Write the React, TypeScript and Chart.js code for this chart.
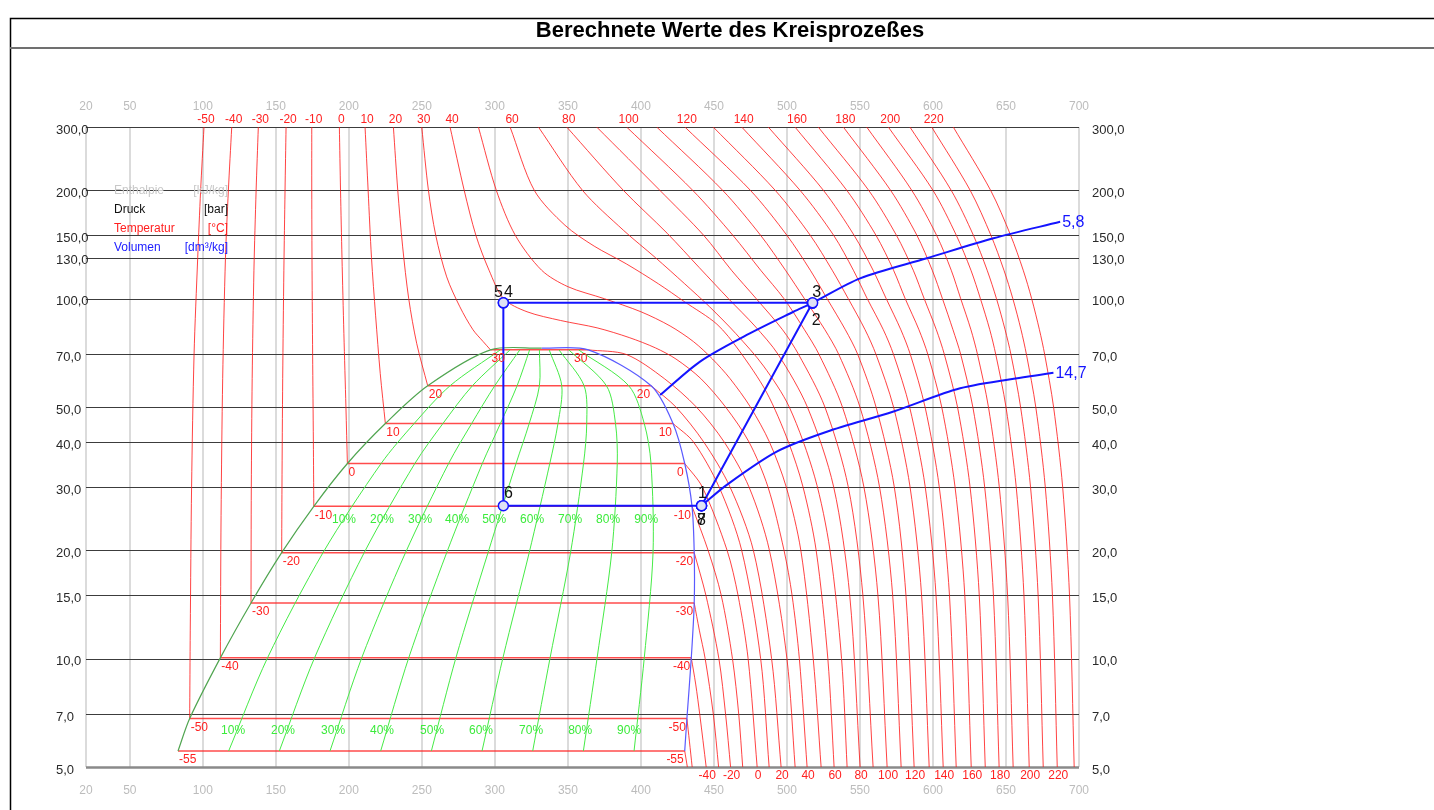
import React, { useEffect, useRef } from 'react';
import { Chart, registerables } from 'chart.js';
Chart.register(...registerables);

const W = 1434;
const H = 810;
const FONT = '"Liberation Sans", Arial, sans-serif';
const titleText = 'Berechnete Werte des Kreisprozeßes';

// axes
const enthalpyTicks = [20, 50, 100, 150, 200, 250, 300, 350, 400, 450, 500, 550, 600, 650, 700];
const pressureTicks = [300, 200, 150, 130, 100, 70, 50, 40, 30, 20, 15, 10, 7, 5];
const pressureLabels = ['300,0', '200,0', '150,0', '130,0', '100,0', '70,0', '50,0', '40,0', '30,0', '20,0', '15,0', '10,0', '7,0', '5,0'];

// saturation (two-phase) data
const satTemps = [-55, -50, -40, -30, -20, -10, 0, 10, 20, 30];
const satPressure = [5.54, 6.82, 10.05, 14.28, 19.7, 26.5, 34.85, 45.0, 57.3, 72.1];
const satLiquidH = [83, 91, 112, 133, 154, 176, 199, 225, 254, 297];
const satVaporH = [430, 431.5, 434.5, 436.5, 436.5, 435, 430, 422, 407, 364];
const criticalPoint = [332, 72.9];

// isotherms, liquid side (top of chart down to saturated liquid), aligned with satTemps
const liquidIsotherms = [
  [],
  [[100.8, 300], [98.5, 200], [96.5, 130], [94, 70], [92.3, 30], [91.4, 12], [91, 6.82]],
  [[119.8, 300], [117.5, 200], [115.5, 130], [113.6, 60], [112.5, 25], [112, 10.05]],
  [[138, 300], [136.5, 200], [135, 120], [133.8, 60], [133.2, 30], [133, 14.28]],
  [[157, 300], [156.3, 200], [155.5, 120], [154.7, 60], [154.2, 30], [154, 19.7]],
  [[174.6, 300], [174.6, 200], [174.8, 120], [175.2, 70], [175.7, 40], [176, 26.5]],
  [[193.5, 300], [194.3, 200], [195.3, 130], [196.6, 80], [198, 50], [199, 34.85]],
  [[211.1, 300], [213.2, 200], [215.5, 130], [218.3, 90], [221.5, 62], [225, 45]],
  [[230.5, 300], [233.5, 200], [236.8, 140], [241, 100], [246.5, 75], [254, 57.3]],
  [[249.9, 300], [254.5, 200], [259.5, 150], [267, 115], [276, 95], [285, 82], [292, 76], [297, 72.1]],
];

// isotherms, vapour side (saturated vapour down to 5 bar), aligned with satTemps
const vaporIsotherms = [
  [[430, 5.54], [431.8, 5]],
  [[431.5, 6.82], [433.2, 5.9], [435.1, 5]],
  [[434.5, 10.05], [437.5, 8.5], [440.3, 7], [444.7, 5]],
  [[436.5, 14.28], [440, 12], [444, 10], [449.6, 7], [453.2, 5]],
  [[436.5, 19.7], [444.5, 15], [453.4, 10], [458, 7], [461.4, 5]],
  [[435, 26.5], [446, 20], [455, 15], [462.7, 10], [467, 7], [469.7, 5]],
  [[430, 34.85], [442, 30], [459, 20], [466.5, 15], [473.4, 10], [479.6, 5]],
  [[422, 45], [436, 40], [453.5, 30], [469, 20], [482, 10], [487.8, 5]],
  [[407, 57.3], [424, 50], [443, 40], [461, 30], [477, 20], [489.5, 10], [496, 5]],
  [[364, 72.1], [390, 70], [416, 60], [438, 50], [457, 40], [474, 30], [488, 20], [500, 10], [505.6, 5]],
];

// supercritical isotherms (300 bar down to 5 bar)
const superTemps = [40, 50, 60, 70, 80, 90, 100, 110, 120, 130, 140, 150, 160, 170, 180, 190, 200, 210, 220, 230];
const superIsotherms = [
  [[269.3, 300], [279, 200], [287, 150], [296, 120], [306, 100], [322, 92], [345, 87], [370, 83], [392, 78], [410, 73], [424, 68], [441, 60], [458, 50], [474, 40], [487, 30], [498, 20], [503.5, 15], [508.5, 10], [513.8, 5]],
  [[288.7, 300], [301, 200], [314, 150], [332, 120], [350, 108], [375, 100], [400, 92], [420, 84], [436, 76], [449, 68], [461, 60], [475, 50], [488, 40], [499.5, 30], [509.5, 20], [518, 10], [523.4, 5]],
  [[310.4, 300], [327, 200], [348, 160], [368, 140], [390, 125], [412, 110], [430, 98], [452, 85], [467, 72], [486, 55], [501, 40], [511, 30], [520, 20], [528, 10], [532.3, 5]],
  [[329.8, 300], [360, 200], [388, 155], [410, 130], [430, 110], [447, 95], [465, 80], [484, 65], [501.6, 50], [519, 32], [529.5, 20], [537.4, 10], [541.2, 5]],
  [[349.2, 300], [388, 200], [418, 152], [440, 122], [460, 100], [478, 84], [494, 70], [514, 50], [532, 30], [543, 15], [550.1, 5]],
  [[369.7, 300], [413, 200], [443, 150], [462, 120], [479, 100], [497, 82], [508, 70], [526, 50], [542, 30], [552, 15], [559, 5]],
  [[390.2, 300], [435.5, 200], [463, 150], [482, 120], [498, 100], [512, 82], [522, 70], [538, 50], [552.7, 30], [562.3, 15], [568.6, 5]],
  [[410.8, 300], [456, 200], [482, 150], [499, 120], [512, 100], [526, 82], [535.5, 70], [550, 50], [563.4, 30], [572.4, 15], [578.2, 5]],
  [[430.1, 300], [475, 200], [500, 150], [516, 120], [527.5, 100], [540, 82], [548.5, 70], [561, 50], [573.5, 30], [581.5, 15], [587.1, 5]],
  [[449.5, 300], [492, 200], [516, 150], [531, 120], [542, 100], [553.5, 82], [561, 70], [573, 50], [584.3, 30], [592.2, 15], [597.4, 5]],
  [[469, 300], [509, 200], [532, 150], [545.5, 120], [555, 100], [566, 82], [573, 70], [584, 50], [594.7, 30], [602.1, 15], [607, 5]],
  [[487.2, 300], [525, 200], [546, 150], [559, 120], [568, 100], [578, 82], [584.5, 70], [594.6, 50], [604.3, 30], [611.3, 15], [615.9, 5]],
  [[505.5, 300], [541, 200], [561, 150], [573, 120], [581, 100], [590.4, 82], [596.5, 70], [606, 50], [615.1, 30], [621.8, 15], [626.2, 5]],
  [[521.4, 300], [556, 200], [575, 150], [586.5, 120], [594, 100], [602.3, 82], [607.8, 70], [616.8, 50], [625.4, 30], [631.7, 15], [635.8, 5]],
  [[538.6, 300], [571, 200], [589, 150], [599.5, 120], [606.5, 100], [613.7, 82], [619, 70], [627.3, 50], [635.4, 30], [641.4, 15], [645.3, 5]],
  [[554.6, 300], [585.5, 200], [602.5, 150], [612.5, 120], [619, 100], [626, 82], [630.5, 70], [638, 50], [645.4, 30], [651.1, 15], [654.9, 5]],
  [[569.4, 300], [600, 200], [616, 150], [626, 120], [632.5, 100], [638.9, 82], [643, 70], [650, 50], [657, 30], [662.3, 15], [665.9, 5]],
  [[584.2, 300], [612.5, 200], [627.7, 150], [637.1, 120], [643.5, 100], [649.4, 82], [653.4, 70], [660, 50], [666.8, 30], [672, 15], [675.5, 5]],
  [[599.1, 300], [625.5, 200], [639.7, 150], [648.6, 120], [654.7, 100], [660.3, 82], [664, 70], [670.4, 50], [676.9, 30], [681.8, 15], [685.1, 5]],
  [[613.9, 300], [639.5, 200], [653.2, 150], [661.8, 120], [667.6, 100], [672.9, 82], [676.5, 70], [682.6, 50], [688.8, 30], [693.5, 15], [696.7, 5]],
];

const topLabelTemps = [-50, -40, -30, -20, -10, 0, 10, 20, 30, 40, 60, 80, 100, 120, 140, 160, 180, 200, 220];
const bottomLabelTemps = [-40, -20, 0, 20, 40, 60, 80, 100, 120, 140, 160, 180, 200, 220];

// vapour quality lines (enthalpy at the pressures below)
const qualityPressures = [5.54, 10.05, 19.7, 34.85, 45.0, 57.3, 72.1];
const qualityH = [
  [117.7, 144.3, 182.3, 222.1, 244.7, 269.3, 303.7],
  [152.4, 176.5, 210.5, 245.2, 264.4, 284.6, 310.4],
  [187.1, 208.8, 238.8, 268.3, 284.1, 299.9, 317.1],
  [221.8, 241, 267, 291.4, 303.8, 315.2, 323.8],
  [256.5, 273.3, 295.3, 314.5, 323.5, 330.5, 330.5],
  [291.2, 305.5, 323.5, 337.6, 343.2, 345.8, 337.2],
  [325.9, 337.8, 351.8, 360.7, 362.9, 361.1, 343.9],
  [360.6, 370, 380, 383.8, 382.6, 376.4, 350.6],
  [395.3, 402.3, 408.3, 406.9, 402.3, 391.7, 357.3],
];
const qualityNames = ['10%', '20%', '30%', '40%', '50%', '60%', '70%', '80%', '90%'];
const qualityLabelUpperH = [196.7, 222.7, 248.8, 274.1, 299.5, 325.5, 351.5, 377.5, 403.6];
const qualityLabelUpperP = 24.3;
const qualityLabelLowerH = [120.7, 154.9, 189.2, 222.7, 257, 290.5, 324.8, 358.4, 391.9];
const qualityLabelLowerP = 6.3;

// refrigeration cycle
const cycleNames = ['1', '2', '3', '4', '5', '6', '7', '8'];
const cycleH = [441.5, 517.3, 517.6, 305.8, 305.8, 305.8, 441.5, 441.5];
const cycleP = [26.6, 97.1, 97.4, 97.4, 97.4, 26.6, 26.6, 26.6];

// isochores
const isochoreA_H = [413.2, 440.5, 472.5, 504.5, 517.6, 550.1, 595.8, 641.4, 687.1];
const isochoreA_P = [54.0, 66.9, 79.3, 92.0, 97.4, 113.9, 129.5, 147.2, 163.6];
const isochoreA_label = '5,8';
const isochoreB_H = [441.5, 458.8, 493, 527.3, 573, 618.6, 664.3, 682.5];
const isochoreB_P = [26.6, 30.4, 37.6, 42.7, 48.6, 56.4, 60.7, 62.3];
const isochoreB_label = '14,7';

// legend
const legendNames = ['Enthalpie', 'Druck', 'Temperatur', 'Volumen'];
const legendUnits = ['[kJ/kg]', '[bar]', '[°C]', '[dm³/kg]'];
const legendColors = ['#c8c8c8', '#111111', '#ff2020', '#2020ff'];

const ISO_RED = 'rgba(255,20,20,0.8)';

function pts(arr: number[][]) {
  return arr.map(([h, p]) => ({ x: h, y: p }));
}

function line(data: any[], color: string, width: number, tension: number, order: number) {
  return {
    data,
    borderColor: color,
    backgroundColor: color,
    borderWidth: width,
    tension,
    pointRadius: 0,
    pointHoverRadius: 0,
    showLine: true,
    fill: false,
    order,
  };
}

function buildDatasets() {
  const ds: any[] = [];
  satTemps.forEach((t, i) => {
    if (liquidIsotherms[i].length) ds.push(line(pts(liquidIsotherms[i]), ISO_RED, 1, 0.3, 10));
    ds.push(line([{ x: satLiquidH[i], y: satPressure[i] }, { x: satVaporH[i], y: satPressure[i] }], 'rgba(255,30,30,0.8)', 1.5, 0, 10));
    ds.push(line(pts(vaporIsotherms[i]), ISO_RED, 1, 0.3, 10));
  });
  superIsotherms.forEach((arr) => ds.push(line(pts(arr), ISO_RED, 1, 0.3, 10)));
  qualityH.forEach((hs) => ds.push(line(hs.map((h, j) => ({ x: h, y: qualityPressures[j] })), 'rgb(70,235,70)', 1, 0.3, 8)));
  const liq = satLiquidH.map((h, i) => ({ x: h, y: satPressure[i] }));
  liq.push({ x: criticalPoint[0], y: criticalPoint[1] });
  ds.push(line(liq, 'rgb(80,165,80)', 1.2, 0.3, 6));
  const vap = [{ x: criticalPoint[0], y: criticalPoint[1] }].concat(
    satVaporH.map((h, i) => ({ x: h, y: satPressure[i] })).reverse()
  );
  ds.push(line(vap, 'rgb(90,90,255)', 1.2, 0.3, 6));
  ds.push(line(isochoreA_H.map((h, i) => ({ x: h, y: isochoreA_P[i] })), 'rgb(20,20,255)', 2, 0.3, 4));
  ds.push(line(isochoreB_H.map((h, i) => ({ x: h, y: isochoreB_P[i] })), 'rgb(20,20,255)', 2, 0.3, 4));
  const cyc = cycleH.map((h, i) => ({ x: h, y: cycleP[i] }));
  cyc.push({ x: cycleH[0], y: cycleP[0] });
  ds.push({
    data: cyc,
    borderColor: 'rgb(20,20,255)',
    borderWidth: 2,
    tension: 0,
    showLine: true,
    fill: false,
    pointRadius: 5,
    pointHoverRadius: 5,
    pointBackgroundColor: '#dfe2f4',
    pointBorderColor: 'rgb(20,20,255)',
    pointBorderWidth: 1.5,
    order: 1,
  });
  return ds;
}

function isoTop(t: number) {
  const i = satTemps.indexOf(t);
  if (i >= 0) return liquidIsotherms[i][0][0];
  return superIsotherms[superTemps.indexOf(t)][0][0];
}
function isoBottom(t: number) {
  const i = satTemps.indexOf(t);
  const arr = i >= 0 ? vaporIsotherms[i] : superIsotherms[superTemps.indexOf(t)];
  return arr[arr.length - 1][0];
}

const cycleLabelOffsets: Record<string, number[]> = {
  '1': [1, -12], '2': [4, 17], '3': [4, -10], '4': [5, -10], '5': [-5, -10], '6': [5, -12], '7': [0, 15], '8': [0, 15],
};

const diagramPlugin = {
  id: 'phDiagram',
  beforeDraw(chart: any) {
    const ctx = chart.ctx;
    const xs = chart.scales.x;
    const ys = chart.scales.y;
    const a = chart.chartArea;
    ctx.save();
    ctx.fillStyle = '#ffffff';
    ctx.fillRect(0, 0, W, H);
    // frame
    ctx.strokeStyle = '#000';
    ctx.lineWidth = 1.5;
    ctx.beginPath();
    ctx.moveTo(10.5, H);
    ctx.lineTo(10.5, 18.5);
    ctx.lineTo(W, 18.5);
    ctx.stroke();
    ctx.strokeStyle = '#707070';
    ctx.lineWidth = 2;
    ctx.beginPath();
    ctx.moveTo(10, 48);
    ctx.lineTo(W, 48);
    ctx.stroke();
    ctx.fillStyle = '#000';
    ctx.font = 'bold 22px ' + FONT;
    ctx.textAlign = 'center';
    ctx.textBaseline = 'middle';
    ctx.fillText(titleText, 730, 31);
    // vertical grid
    ctx.strokeStyle = '#cfcfcf';
    ctx.lineWidth = 1.5;
    enthalpyTicks.forEach((h) => {
      const x = Math.round(xs.getPixelForValue(h));
      ctx.beginPath();
      ctx.moveTo(x, a.top);
      ctx.lineTo(x, a.bottom);
      ctx.stroke();
    });
    // horizontal grid
    pressureTicks.forEach((p) => {
      const y = Math.round(ys.getPixelForValue(p)) + 0.5;
      ctx.strokeStyle = p === 5 ? '#8a8a8a' : '#3c3c3c';
      ctx.lineWidth = p === 5 ? 2.5 : 1.2;
      ctx.beginPath();
      ctx.moveTo(a.left, y);
      ctx.lineTo(a.right, y);
      ctx.stroke();
    });
    ctx.restore();
  },
  afterDatasetsDraw(chart: any) {
    const ctx = chart.ctx;
    const xs = chart.scales.x;
    const ys = chart.scales.y;
    const px = (h: number) => xs.getPixelForValue(h);
    const py = (p: number) => ys.getPixelForValue(p);
    ctx.save();
    // axis labels
    ctx.font = '12px ' + FONT;
    ctx.textBaseline = 'middle';
    ctx.textAlign = 'center';
    ctx.fillStyle = '#bcbcbc';
    enthalpyTicks.forEach((h) => {
      ctx.fillText(String(h), px(h), 107);
      ctx.fillText(String(h), px(h), 791);
    });
    ctx.font = '13px ' + FONT;
    ctx.fillStyle = '#2a2a2a';
    ctx.textAlign = 'left';
    pressureTicks.forEach((p, i) => {
      ctx.fillText(pressureLabels[i], 56, py(p) + 3);
      ctx.fillText(pressureLabels[i], 1092, py(p) + 3);
    });
    // temperature labels top / bottom
    ctx.font = '12px ' + FONT;
    ctx.fillStyle = '#ff2020';
    ctx.textAlign = 'center';
    topLabelTemps.forEach((t) => ctx.fillText(String(t), px(isoTop(t)) + 2, 120));
    bottomLabelTemps.forEach((t) => ctx.fillText(String(t), px(isoBottom(t)) + 1, 776));
    // two-phase labels
    ctx.textBaseline = 'top';
    satTemps.forEach((t, i) => {
      const y = py(satPressure[i]) + 3;
      ctx.textAlign = 'left';
      ctx.fillText(String(t), px(satLiquidH[i]) + 1, y);
      ctx.textAlign = 'right';
      ctx.fillText(String(t), px(satVaporH[i]) - 1, y);
    });
    // quality labels
    ctx.textBaseline = 'middle';
    ctx.textAlign = 'center';
    ctx.fillStyle = 'rgb(60,235,60)';
    qualityNames.forEach((n, i) => {
      ctx.fillText(n, px(qualityLabelUpperH[i]), py(qualityLabelUpperP));
      ctx.fillText(n, px(qualityLabelLowerH[i]), py(qualityLabelLowerP));
    });
    // legend
    legendNames.forEach((n, i) => {
      const y = 191 + i * 19;
      ctx.fillStyle = legendColors[i];
      ctx.textAlign = 'left';
      ctx.fillText(n, 114, y);
      ctx.textAlign = 'right';
      ctx.fillText(legendUnits[i], 228, y);
    });
    // cycle labels
    ctx.font = '16px ' + FONT;
    ctx.fillStyle = '#111';
    ctx.textAlign = 'center';
    cycleNames.forEach((n, i) => {
      const o = cycleLabelOffsets[n];
      ctx.fillText(n, px(cycleH[i]) + o[0], py(cycleP[i]) + o[1]);
    });
    // isochore labels
    ctx.fillStyle = 'rgb(20,20,255)';
    ctx.textAlign = 'left';
    const ai = isochoreA_H.length - 1;
    ctx.fillText(isochoreA_label, px(isochoreA_H[ai]) + 2, py(isochoreA_P[ai]) + 1);
    const bi = isochoreB_H.length - 1;
    ctx.fillText(isochoreB_label, px(isochoreB_H[bi]) + 2, py(isochoreB_P[bi]) + 1);
    ctx.restore();
  },
};

export default function App() {
  const ref = useRef<HTMLCanvasElement>(null);
  useEffect(() => {
    const canvas = ref.current;
    if (!canvas) return;
    const chart = new Chart(canvas, {
      type: 'scatter',
      data: { datasets: buildDatasets() },
      options: {
        responsive: false,
        maintainAspectRatio: false,
        devicePixelRatio: 1,
        animation: false,
        layout: { padding: { left: 86, right: W - 1079, top: 127, bottom: H - 767 } },
        scales: {
          x: { type: 'linear', min: 20, max: 700, display: false },
          y: { type: 'logarithmic', min: 5, max: 300, display: false },
        },
        plugins: { legend: { display: false }, tooltip: { enabled: false }, title: { display: false } },
        events: [],
      },
      plugins: [diagramPlugin],
    } as any);
    return () => chart.destroy();
  }, []);
  return (
    <div style={{ position: 'fixed', left: 0, top: 0, width: W, height: H, background: '#fff' }}>
      <canvas ref={ref} width={W} height={H} style={{ width: W, height: H, display: 'block' }} />
    </div>
  );
}
